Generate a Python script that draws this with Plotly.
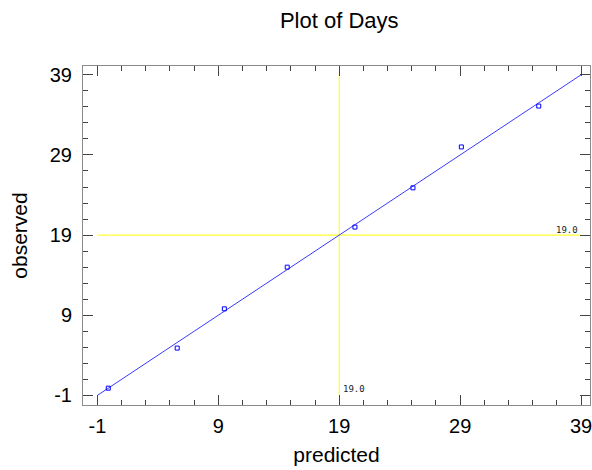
import plotly.graph_objects as go

# Predicted vs observed days
predicted = [-0.1, 5.6, 9.5, 14.7, 20.3, 25.1, 29.1, 35.5]
observed = [-0.1, 4.9, 9.8, 15.0, 20.0, 24.9, 30.0, 35.1]

# Diagonal reference (observed = predicted) across the tick span
diag_x = [-1, 39]
diag_y = [-1, 39]

# Centre lines
center_value = 19.0
center_span = [-1, 39]

tick_vals = [-1, 9, 19, 29, 39]
tick_text = ["-1", "9", "19", "29", "39"]

font_family = "Liberation Sans, Arial, sans-serif"
frame_color = "#8a8a8a"
tick_color = "#444444"

fig = go.Figure()

fig.add_trace(go.Scatter(
    x=center_span, y=[center_value, center_value], mode="lines",
    line=dict(color="#ffff00", width=1), hoverinfo="skip", showlegend=False,
))
fig.add_trace(go.Scatter(
    x=[center_value, center_value], y=center_span, mode="lines",
    line=dict(color="#ffff00", width=1), hoverinfo="skip", showlegend=False,
))
fig.add_trace(go.Scatter(
    x=diag_x, y=diag_y, mode="lines",
    line=dict(color="#3a3aff", width=1), showlegend=False,
))
fig.add_trace(go.Scatter(
    x=predicted, y=observed, mode="markers",
    marker=dict(symbol="square-open", size=4, color="#0000ff",
                line=dict(width=1, color="#0000ff")),
    showlegend=False,
))

label_font = dict(family="DejaVu Sans Mono, monospace", size=9, color="#222222")
fig.add_annotation(x=center_value, y=-1, xref="x", yref="y", text="19.0",
                   showarrow=False, xanchor="left", yanchor="bottom",
                   xshift=2, yshift=-1, font=label_font)
fig.add_annotation(x=39, y=center_value, xref="x", yref="y", text="19.0",
                   showarrow=False, xanchor="right", yanchor="bottom",
                   xshift=-1, yshift=-2, font=label_font)

axis_common = dict(
    showgrid=False, zeroline=False,
    showline=True, linecolor=frame_color, linewidth=1,
    mirror="allticks",
    ticks="inside", ticklen=10, tickwidth=1, tickcolor=tick_color,
    tickmode="array", tickvals=tick_vals, ticktext=tick_text,
    tickfont=dict(family=font_family, size=20, color="#000000"),
    ticklabeloverflow="allow",
    minor=dict(ticks="inside", ticklen=5, tickcolor=tick_color,
               tickmode="linear", tick0=-1, dtick=2, showgrid=False),
)

fig.update_xaxes(
    range=[-2.19, 39.74],
    title=dict(text="predicted", font=dict(family=font_family, size=21, color="#000000"),
               standoff=11),
    ticklabelstandoff=3,
    **axis_common,
)
fig.update_yaxes(
    range=[-2.2, 40.1],
    title=dict(text="observed", font=dict(family=font_family, size=21, color="#000000"),
               standoff=16),
    ticklabelstandoff=6,
    **axis_common,
)

fig.update_layout(
    width=592, height=470,
    margin=dict(l=83, r=0, t=66, b=65),
    paper_bgcolor="#ffffff", plot_bgcolor="#ffffff",
    title=dict(text="Plot of Days", x=0.573, xanchor="center",
               y=1 - 20 / 470, yanchor="middle",
               font=dict(family=font_family, size=22, color="#000000")),
)

fig.write_html("out.html")
